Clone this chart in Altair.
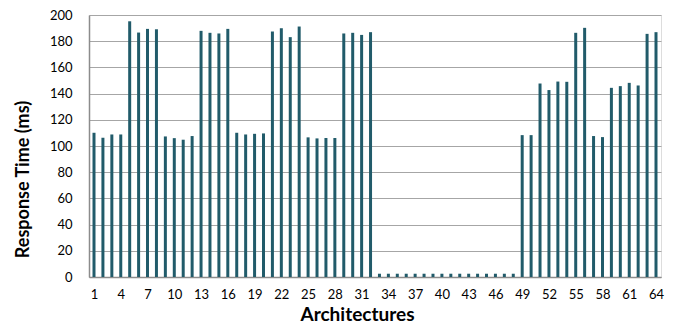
import altair as alt
import pandas as pd

architectures = list(range(1, 65))
response_ms = [
    110.1, 106.3, 108.8, 108.8, 195.2, 186.6, 189.4, 189.1,
    107.3, 106.0, 104.8, 107.6, 187.9, 186.4, 185.9, 189.4,
    110.1, 108.8, 109.3, 109.6, 187.4, 189.9, 183.1, 191.2,
    106.6, 105.8, 106.1, 106.1, 185.9, 186.4, 184.8, 186.9,
    2.5, 2.5, 2.5, 2.5, 2.5, 2.5, 2.5, 2.5,
    2.5, 2.5, 2.5, 2.5, 2.5, 2.5, 2.5, 2.5,
    108.3, 108.3, 147.7, 142.7, 149.2, 149.0, 186.4, 190.2,
    107.6, 106.8, 144.4, 145.7, 148.2, 146.2, 185.6, 186.9,
]
x_ticks = list(range(1, 65, 3))
y_ticks = list(range(0, 201, 20))

df = pd.DataFrame({"arch": architectures, "ms": response_ms})

FONT = "Lato"

xscale = alt.Scale(domain=[1, 64], nice=False, zero=False)
yscale = alt.Scale(domain=[0, 200], nice=False)

chart = alt.Chart(df).mark_bar(width=3, color="#215B6A").encode(
    x=alt.X("arch:Q", scale=xscale,
            axis=alt.Axis(values=x_ticks, title="Architectures", grid=False,
                          ticks=False, labelPadding=11, labelFontSize=13,
                          labelFont=FONT, labelColor="#000000",
                          domainColor="#8c8c8c", domainWidth=1.5,
                          titleFont=FONT, titleFontSize=19, titleFontWeight="bold",
                          titleColor="#000000", titleX=268, titleY=37,
                          titleAlign="center", titleBaseline="middle",
                          labelFlush=False, labelOverlap=False)),
    y=alt.Y("ms:Q", scale=yscale,
            axis=alt.Axis(values=y_ticks, title="Response Time (ms)", grid=True,
                          gridColor="#a6a6a6", gridWidth=1.2,
                          ticks=False, labelPadding=17, labelFontSize=13,
                          labelFont=FONT, labelColor="#000000",
                          domainColor="#8c8c8c", domainWidth=1.5,
                          titleFont=FONT, titleFontSize=18, titleFontWeight="bold",
                          titleColor="#000000", titleX=-66, titleY=164,
                          titleAngle=-90, titleAlign="center", titleBaseline="middle",
                          labelFlush=False, labelOverlap=False)),
).properties(
    width=572, height=262,
    autosize=alt.AutoSizeParams(type="none"),
    padding={"left": 81, "top": 7, "right": 20, "bottom": 48},
).configure_view(stroke="#000000", strokeWidth=1.5).configure(background="#ffffff")

chart.save("out.html", embed_options={"renderer": "svg", "actions": False})
